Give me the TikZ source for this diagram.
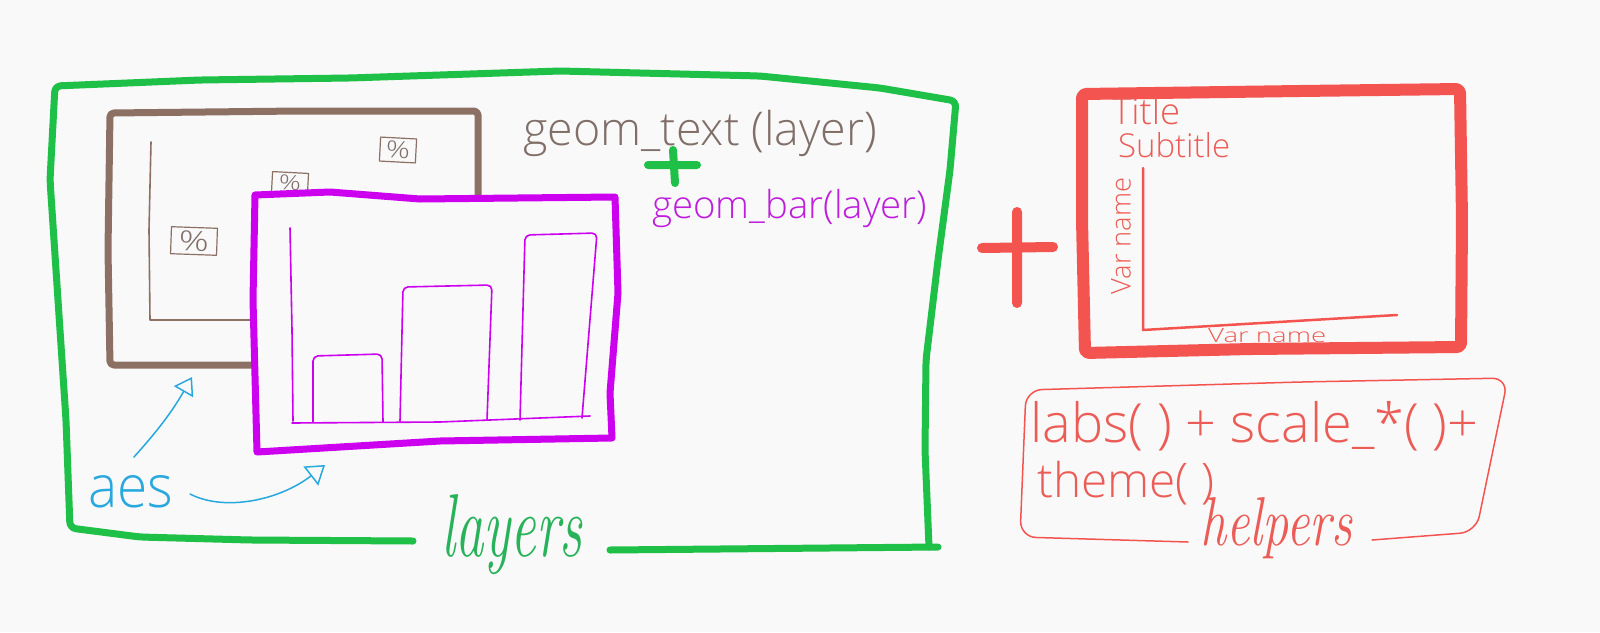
\documentclass[tikz,border=0pt]{standalone}
\usepackage{fontspec}
\usepackage{graphicx}
\IfFontExistsTF{Open Sans Light}{\newfontfamily\hand{Open Sans Light}}{%
  \IfFontExistsTF{DejaVu Sans ExtraLight}{\newfontfamily\hand{DejaVu Sans ExtraLight}}{%
    \IfFontExistsTF{DejaVuSans-ExtraLight.ttf}{\newfontfamily\hand{DejaVuSans-ExtraLight.ttf}}{%
      \newfontfamily\hand{Open Sans}}}}
\usetikzlibrary{arrows.meta}
\definecolor{bg}{RGB}{249,249,249}
\definecolor{gcol}{RGB}{30,192,72}
\definecolor{gtxt}{RGB}{40,178,90}
\definecolor{bcol}{RGB}{140,112,100}
\definecolor{btxt}{RGB}{128,110,104}
\definecolor{pcol}{RGB}{204,0,238}
\definecolor{ptxt}{RGB}{190,30,220}
\definecolor{rcol}{RGB}{244,84,80}
\definecolor{rtxt}{RGB}{236,92,86}
\definecolor{acol}{RGB}{40,168,222}
\newcommand{\fitw}[2]{\resizebox{#1pt}{!}{#2}}
\newcommand{\fitwh}[3]{\resizebox{#1pt}{#2pt}{#3}}
\newcommand{\hf}{\hand\fontsize{30}{36}\selectfont}
\newcommand{\cf}{\rmfamily\itshape\fontsize{30}{36}\selectfont}
\begin{document}
\begin{tikzpicture}[x=1pt,y=-1pt,line join=round,line cap=round,
  heavy/.style={line width=7pt},
  fine/.style={line width=1.6pt},
  txt/.style={inner sep=0pt,anchor=base west},
  pctbox/.style={draw=bcol,line width=1.2pt,inner sep=0pt,text=btxt}]
\fill[bg] (0,0) rectangle (1600,632);
\useasboundingbox (0,0) rectangle (1600,632);

% green layers frame
\draw[gcol,heavy,rounded corners=6pt] (413,541) -- (250,540) -- (140,537) -- (70,528)
  -- (66,420) -- (58,300) -- (50,180) -- (55,86) -- (200,80) -- (350,78) -- (470,74)
  -- (560,71) -- (760,76) -- (880,88) -- (956,101) -- (950,170) -- (938,260)
  -- (926,360) -- (925,450) -- (929,547);
\draw[gcol,heavy] (610,550) -- (938,547);
\node[txt,text=gtxt] (layers) at (441,556) {\fitwh{141}{62}{\cf layers}};

% brown geom_text plot
\draw[bcol,heavy,rounded corners=4pt] (110,113) -- (300,111) -- (478,111) -- (478,300)
  -- (478,365) -- (110,365) -- (108,250) -- cycle;
\draw[bcol,fine] (151,142) -- (149,230) -- (150,320) -- (258,320);
\node[pctbox,minimum width=46pt,minimum height=27pt,rotate=-2] (p1) at (194,241) {\fitwh{30}{20}{\hf\%}};
\node[pctbox,minimum width=36pt,minimum height=21pt,rotate=-3] (p2) at (290,183) {\fitwh{22}{15}{\hf\%}};
\node[pctbox,minimum width=36pt,minimum height=24pt,rotate=-3] (p3) at (398,150) {\fitwh{24}{17}{\hf\%}};

% purple geom_bar plot
\filldraw[fill=bg,draw=pcol,heavy] (255,195) -- (330,192) -- (420,199) -- (615,197)
  -- (618,293) -- (610,393) -- (612,438) -- (440,441) -- (257,452) -- (253,300) -- cycle;
\draw[pcol,fine] (290,228) -- (292,330) -- (293,421);
\draw[pcol,fine] (292,423) -- (440,422) -- (590,416);
\draw[pcol,fine,rounded corners=5pt] (313,422) -- (313,356) -- (382,354) -- (383,422);
\draw[pcol,fine,rounded corners=5pt] (400,421) -- (403,287) -- (492,285) -- (487,420);
\draw[pcol,fine,rounded corners=5pt] (520,420) -- (525,235) -- (597,233) -- (582,418);

% layer labels
\node[txt,text=btxt] (gtext) at (523,145) {\fitw{354}{\hf geom\_text (layer)}};
\draw[gcol,line width=8pt] (648,165) -- (697,165) (673,150) -- (675,183);
\node[txt,text=ptxt] (gbar) at (652,218) {\fitw{275}{\hf geom\_bar(layer)}};

% aes
\node[txt,text=acol] (aes) at (88,507) {\fitwh{85}{32}{\hf aes}};
\coordinate (a1s) at (134,457);
\coordinate (a1e) at (192,377);
\coordinate (a2s) at (190,494);
\coordinate (a2e) at (325,465);
\draw[acol,line width=1.5pt,-{Triangle[open,length=17pt,width=22pt]}] (a1s) to[bend right=6] (a1e);
\draw[acol,line width=1.5pt,-{Triangle[open,length=18pt,width=24pt]}] (a2s) .. controls (225,512) and (280,500) .. (a2e);

% red plus
\draw[rcol,line width=10pt] (982,248) -- (1053,247) (1017,212) -- (1017,303);

% red themed plot
\draw[rcol,line width=12pt,rounded corners=4pt] (1082,94) -- (1300,91) -- (1460,89)
  -- (1462,220) -- (1461,347) -- (1250,349) -- (1085,353) -- (1082,220) -- cycle;
\draw[rcol,line width=2.5pt] (1143,168) -- (1143,330) -- (1397,315);
\node[txt,text=rtxt] (title) at (1112,124) {\fitw{68}{\hf Title}};
\node[txt,text=rtxt] (subtitle) at (1118,157) {\fitw{112}{\hf Subtitle}};
\node[inner sep=0pt,text=rtxt,rotate=90] (yname) at (1121,236) {\fitw{117}{\hf Var name}};
\node[txt,text=rtxt] (xname) at (1208,342) {\fitwh{118}{14}{\hf Var name}};

% helpers
\draw[rcol,line width=1.5pt,rounded corners=16pt] (1188,542) -- (1020,537)
  -- (1026,390) -- (1300,382) -- (1508,378) -- (1476,532) -- (1372,540);
\node[txt,text=rtxt] (labs) at (1030,442) {\fitw{448}{\hf labs( ) + scale\_*( )+}};
\node[txt,text=rtxt] (theme) at (1037,497) {\fitw{177}{\hf theme( )}};
\node[txt,text=rtxt] (helpers) at (1200,545) {\fitwh{152}{48}{\cf helpers}};
\end{tikzpicture}
\end{document}
